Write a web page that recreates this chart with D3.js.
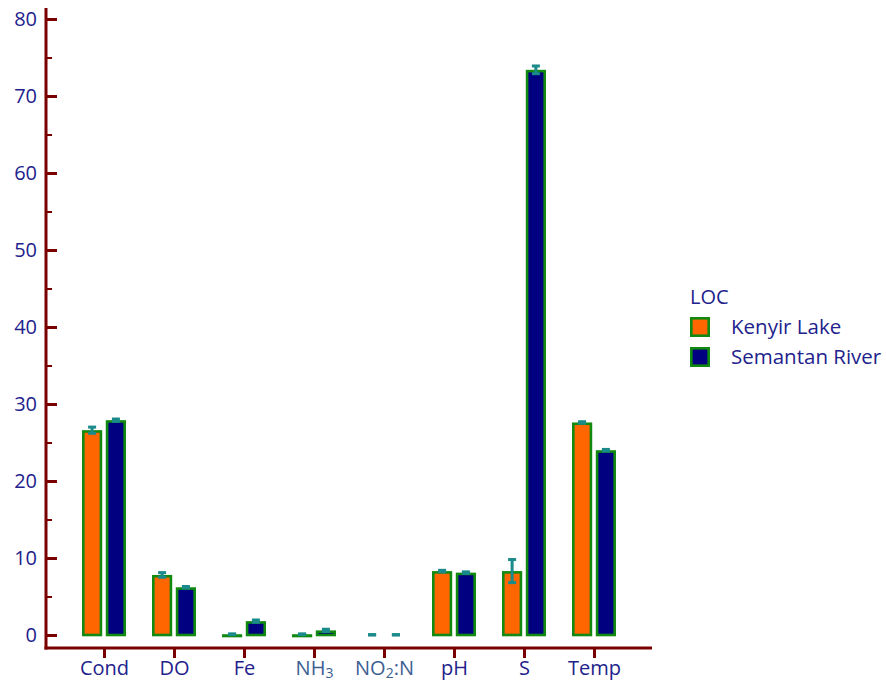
<!DOCTYPE html>
<html><head><meta charset="utf-8">
<script src="https://cdn.jsdelivr.net/npm/d3@7"></script>
<style>body{margin:0;background:#fff}svg{display:block}</style>
</head><body>
<svg id="c" width="886" height="681"></svg>
<script>
const categories = ["Cond","DO","Fe","NH3","NO2:N","pH","S","Temp"];
const seriesNames = ["Kenyir Lake","Semantan River"];
const kenyirValues   = [26.6, 7.8, 0.1, 0.1, 0, 8.3, 8.3, 27.6];
const kenyirErrors   = [0.4, 0.3, 0.05, 0.05, 0.05, 0.1, 1.5, 0.1];
const semantanValues = [27.9, 6.2, 1.8, 0.6, 0, 8.1, 73.4, 24.0];
const semantanErrors = [0.15, 0.1, 0.15, 0.15, 0.05, 0.1, 0.5, 0.1];
const yTicks = [0,10,20,30,40,50,60,70,80];
const yMinorTicks = [5,15,25,35,45,55,65,75];

const axisColor = "#7a0000", textColor = "#22228c", subColor = "#3d5e92";
const fills = ["#ff6600","#000080"], strokeCol = "#128a12", errCol = "#1a8a8a";
const font = "'Open Sans', 'Noto Sans', sans-serif";

const svg = d3.select("#c");
const y = d3.scaleLinear().domain([0,80]).range([635,19]);
const x = d3.scalePoint().domain(categories).range([104,594]);
const xs = d3.scaleBand().domain(seriesNames).range([-22,22]).paddingInner(0.15);

const data = categories.map((c,i)=>({cat:c, vals:[
  {s:seriesNames[0], v:kenyirValues[i], e:kenyirErrors[i], k:0},
  {s:seriesNames[1], v:semantanValues[i], e:semantanErrors[i], k:1}]}));

// bars
const sw = 2.6;
const g = svg.append("g");
data.forEach(d=>{
  d.vals.forEach(b=>{
    if (b.v <= 0) return;
    const x0 = x(d.cat) + xs(b.s);
    const top = y(b.v), bot = y(0);
    g.append("rect")
      .attr("x", x0 + sw/2).attr("width", xs.bandwidth() - sw)
      .attr("y", top + sw/2).attr("height", Math.max(0.5, bot - top - sw/2))
      .attr("fill", fills[b.k]).attr("stroke", strokeCol).attr("stroke-width", sw);
  });
});
// error bars
data.forEach(d=>{
  d.vals.forEach(b=>{
    const cx = x(d.cat) + xs(b.s) + xs.bandwidth()/2;
    const y1 = y(b.v + b.e), y2 = y(Math.max(0,b.v - b.e));
    g.append("line").attr("x1",cx).attr("x2",cx).attr("y1",y1).attr("y2",y2)
      .attr("stroke",errCol).attr("stroke-width",3);
    [y1,y2].forEach(yy=> g.append("line").attr("x1",cx-4).attr("x2",cx+4)
      .attr("y1",yy).attr("y2",yy).attr("stroke",errCol).attr("stroke-width",3));
  });
});

// y axis
const yAxis = svg.append("g").attr("transform","translate(46,0)")
  .call(d3.axisLeft(y).tickValues(yTicks).tickSize(-11).tickSizeOuter(0).tickPadding(9));
yAxis.select(".domain").remove();
yAxis.selectAll(".tick line").attr("stroke",axisColor).attr("stroke-width",3);
yAxis.selectAll(".tick text").attr("fill",textColor).style("font-family",font).style("font-size","20px");
const yMinor = svg.append("g").attr("transform","translate(46,0)")
  .call(d3.axisLeft(y).tickValues(yMinorTicks).tickSize(-6).tickFormat(""));
yMinor.select(".domain").remove();
yMinor.selectAll(".tick line").attr("stroke",axisColor).attr("stroke-width",2);

// x axis
const xAxis = svg.append("g").attr("transform","translate(0,648)")
  .call(d3.axisBottom(x).tickSize(10).tickSizeOuter(0).tickPadding(8).tickFormat(""));
xAxis.select(".domain").remove();
xAxis.selectAll(".tick line").attr("stroke",axisColor).attr("stroke-width",3);
const labelSpec = {
  "NH3": [["NH",false],["3",true]],
  "NO2:N": [["NO",false],["2",true],[":N",false]]
};
xAxis.selectAll(".tick").each(function(c){
  const t = d3.select(this).append("text").attr("y",27).attr("text-anchor","middle")
    .style("font-family",font).style("font-size","20px");
  const spec = labelSpec[c];
  if (!spec) { t.attr("fill",textColor).text(c); return; }
  t.attr("fill",subColor);
  spec.forEach(([s,sub])=>{
    const ts = t.append("tspan").text(s);
    if (sub) ts.attr("dy",3).style("font-size","14px");
    else ts.attr("dy", t.selectAll("tspan").size()>1 ? -3 : 0);
  });
});

// axis lines
svg.append("line").attr("x1",46).attr("x2",46).attr("y1",8).attr("y2",649.5)
  .attr("stroke",axisColor).attr("stroke-width",3);
svg.append("line").attr("x1",44.5).attr("x2",652).attr("y1",648).attr("y2",648)
  .attr("stroke",axisColor).attr("stroke-width",3);

// legend
const lg = svg.append("g").attr("transform","translate(690,0)");
lg.append("text").attr("x",0).attr("y",304).text("LOC").attr("fill",textColor)
  .style("font-family",font).style("font-size","20px");
seriesNames.forEach((s,i)=>{
  const yy = 317 + i*30;
  lg.append("rect").attr("x",1.3).attr("y",yy+1.3).attr("width",17.4).attr("height",17.4)
    .attr("fill",fills[i]).attr("stroke",strokeCol).attr("stroke-width",2.6);
  lg.append("text").attr("x",41).attr("y",yy+17).text(s).attr("fill",textColor)
    .style("font-family",font).style("font-size","20.5px");
});
</script>
</body></html>
